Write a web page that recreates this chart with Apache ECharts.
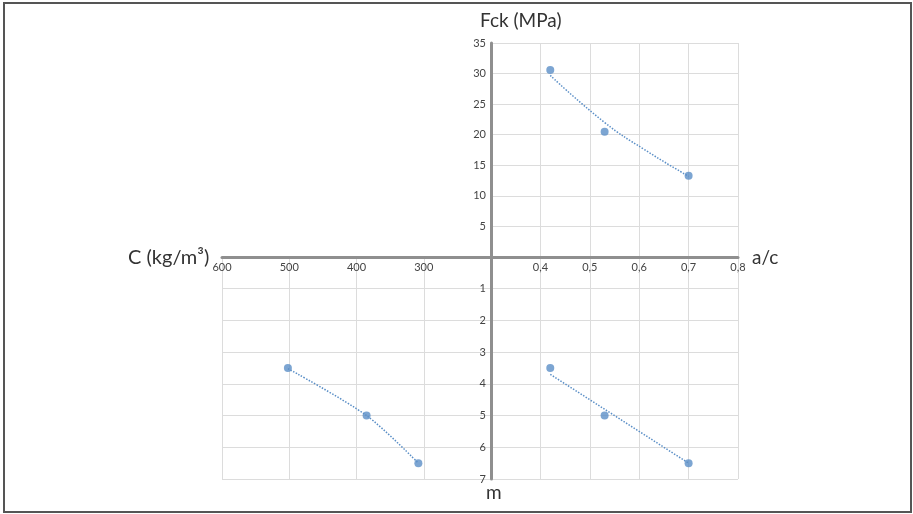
<!DOCTYPE html>
<html>
<head>
<meta charset="utf-8">
<script src="https://cdn.jsdelivr.net/npm/echarts@6/dist/echarts.min.js"></script>
<style>
  html, body { margin: 0; padding: 0; background: #fff; }
  #chart { width: 913px; height: 514px; }
</style>
</head>
<body>
<div id="chart"></div>
<script>
// measured points
const acRatio = [0.42, 0.53, 0.70];
const fck = [30.6, 20.5, 13.3];
const mValues = [3.5, 5.0, 6.5];
const cementContent = [502, 385, 308];

// dotted trend lines
const fckTrendAc = [0.42, 0.53, 0.61, 0.70];
const fckTrend = [29.7, 22.0, 17.6, 13.2];
const mTrendAc = [0.42, 0.70];
const mTrend = [3.7, 6.5];
const cTrend = [502, 385, 308];
const mTrendC = [3.52, 5.0, 6.5];

const acTicks = [0.3, 0.8, 0.1];
const fckTicks = [0, 35, 5];
const mTicks = [0, 7, 1];
const cTicks = [200, 600, 100];

const blue = "#5b8fc7";
const axisGray = "#8f8f8f";
const gridGray = "#dcdcdc";
const font = "Lato, 'Open Sans', sans-serif";

const zip = (xs, ys) => xs.map((x, i) => [x, ys[i]]);
const hideOrigin = (origin) => (v) =>
  Math.abs(v - origin) < 1e-6 ? "" : String(Math.round(v * 10) / 10).replace(".", ",");

const labelStyle = { fontSize: 11, color: "#444", fontFamily: font };
const split = { show: true, lineStyle: { color: gridGray, width: 1 } };
const thick = { show: true, lineStyle: { color: axisGray, width: 3 } };

const myChart = echarts.init(document.getElementById("chart"));

const option = {
  animation: false,
  backgroundColor: "#fff",
  grid: [
    { left: 491, top: 43, width: 247, height: 214 },
    { left: 491, top: 257, width: 247, height: 222 },
    { left: 222, top: 257, width: 269, height: 222 },
  ],
  xAxis: [
    {
      gridIndex: 0, type: "value", position: "bottom",
      min: acTicks[0], max: acTicks[1], interval: acTicks[2],
      axisLine: thick, axisTick: { show: false }, splitLine: split,
      axisLabel: { ...labelStyle, margin: 5, formatter: hideOrigin(acTicks[0]) },
    },
    {
      gridIndex: 1, type: "value", position: "top",
      min: acTicks[0], max: acTicks[1], interval: acTicks[2],
      axisLine: { show: false }, axisTick: { show: false }, splitLine: split,
      axisLabel: { show: false },
    },
    {
      gridIndex: 2, type: "value", position: "top", inverse: true,
      min: cTicks[0], max: cTicks[1], interval: cTicks[2],
      axisLine: thick, axisTick: { show: false }, splitLine: split,
      axisLabel: { ...labelStyle, inside: true, margin: 5, formatter: hideOrigin(cTicks[0]) },
    },
  ],
  yAxis: [
    {
      gridIndex: 0, type: "value", position: "left",
      min: fckTicks[0], max: fckTicks[1], interval: fckTicks[2],
      axisLine: thick, axisTick: { show: false }, splitLine: split,
      axisLabel: { ...labelStyle, margin: 5, formatter: hideOrigin(fckTicks[0]) },
    },
    {
      gridIndex: 1, type: "value", position: "left", inverse: true,
      min: mTicks[0], max: mTicks[1], interval: mTicks[2],
      axisLine: thick, axisTick: { show: false }, splitLine: split,
      axisLabel: { ...labelStyle, margin: 5, formatter: hideOrigin(mTicks[0]) },
    },
    {
      gridIndex: 2, type: "value", position: "right", inverse: true,
      min: mTicks[0], max: mTicks[1], interval: mTicks[2],
      axisLine: { show: false }, axisTick: { show: false }, splitLine: split,
      axisLabel: { show: false },
    },
  ],
  series: [
    {
      type: "line", xAxisIndex: 0, yAxisIndex: 0, smooth: true, symbol: "none",
      lineStyle: { color: blue, width: 1.5, type: "dotted" },
      data: zip(fckTrendAc, fckTrend), z: 2,
    },
    {
      type: "scatter", xAxisIndex: 0, yAxisIndex: 0, symbolSize: 8,
      itemStyle: { color: blue }, data: zip(acRatio, fck), z: 3,
    },
    {
      type: "line", xAxisIndex: 1, yAxisIndex: 1, symbol: "none",
      lineStyle: { color: blue, width: 1.5, type: "dotted" },
      data: zip(mTrendAc, mTrend), z: 2,
    },
    {
      type: "scatter", xAxisIndex: 1, yAxisIndex: 1, symbolSize: 8,
      itemStyle: { color: blue }, data: zip(acRatio, mValues), z: 3,
    },
    {
      type: "line", xAxisIndex: 2, yAxisIndex: 2, smooth: 0.3, symbol: "none",
      lineStyle: { color: blue, width: 1.5, type: "dotted" },
      data: zip(cTrend, mTrendC), z: 2,
    },
    {
      type: "scatter", xAxisIndex: 2, yAxisIndex: 2, symbolSize: 8,
      itemStyle: { color: blue }, data: zip(cementContent, mValues), z: 3,
    },
  ],
  graphic: [
    {
      type: "rect", shape: { x: 4, y: 3, width: 907, height: 509 },
      style: { fill: "none", stroke: "#555", lineWidth: 2 }, silent: true,
    },
    {
      type: "text", left: 480, top: 11,
      style: { text: "Fck (MPa)", fontSize: 19, fontFamily: font, fill: "#333" },
    },
    {
      type: "text", left: 128, top: 248,
      style: { text: "C (kg/m³)", fontSize: 20, fontFamily: font, fill: "#333" },
    },
    {
      type: "text", left: 752, top: 248,
      style: { text: "a/c", fontSize: 19, fontFamily: font, fill: "#333" },
    },
    {
      type: "text", left: 486, top: 483,
      style: { text: "m", fontSize: 19, fontFamily: font, fill: "#333" },
    },
  ],
};

myChart.setOption(option);
</script>
</body>
</html>
